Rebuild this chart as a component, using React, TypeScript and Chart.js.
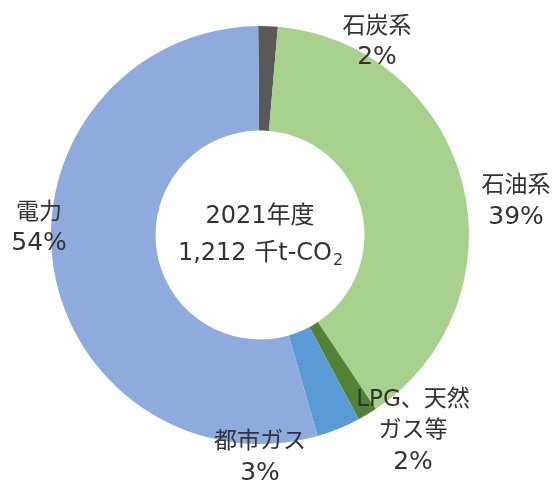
import React, { useEffect, useRef } from "react";
import { Chart, registerables } from "chart.js";

Chart.register(...registerables);

const categories = ["石炭系", "石油系", "LPG、天然ガス等", "都市ガス", "電力"];
const labelLines = [["石炭系"], ["石油系"], ["LPG、天然", "ガス等"], ["都市ガス"], ["電力"]];
const values = [1.5, 39.3, 1.5, 3.4, 54.3];
const percentLabels = ["2%", "39%", "2%", "3%", "54%"];
const colors = ["#595959", "#A9D18E", "#548235", "#5B9BD5", "#8FAADC"];
// label anchor offsets, in units of the outer radius from the chart centre
const labelOffsets = [
  [0.56, -0.923],
  [1.225, -0.158],
  [0.732, 0.938],
  [0.0, 1.067],
  [-1.057, -0.033],
];
const centerTitle = "2021年度";
const centerValue = "1,212 千t-CO";
const centerSub = "2";

const FONT = '"DejaVu Sans", "Noto Sans CJK JP", sans-serif';

const labelPlugin = {
  id: "outerLabels",
  afterDraw(chart: any) {
    const meta = chart.getDatasetMeta(0);
    const arc0 = meta.data[0];
    if (!arc0) return;
    const { x: cx, y: cy, outerRadius: R } = arc0.getProps(["x", "y", "outerRadius"], true);
    const ctx = chart.ctx;
    ctx.save();
    ctx.fillStyle = "#333333";
    ctx.textAlign = "center";
    ctx.textBaseline = "middle";
    const lh = 31;
    categories.forEach((_, i) => {
      const lines = [...labelLines[i], percentLabels[i]];
      const ax = cx + labelOffsets[i][0] * R;
      const ay = cy + labelOffsets[i][1] * R;
      const top = ay - ((lines.length - 1) * lh) / 2;
      lines.forEach((t, j) => {
        ctx.font = j === lines.length - 1 ? `25px ${FONT}` : `23px ${FONT}`;
        ctx.fillText(t, ax, top + j * lh);
      });
    });
    // centre text
    ctx.font = `24px ${FONT}`;
    ctx.fillText(centerTitle, cx, cy - 18);
    const w1 = ctx.measureText(centerValue).width;
    ctx.font = `16px ${FONT}`;
    const w2 = ctx.measureText(centerSub).width;
    const startX = cx - (w1 + w2) / 2;
    ctx.textAlign = "left";
    ctx.font = `24px ${FONT}`;
    ctx.fillText(centerValue, startX, cy + 19);
    ctx.font = `16px ${FONT}`;
    ctx.fillText(centerSub, startX + w1 + 1, cy + 26);
    ctx.restore();
  },
};

export default function App() {
  const ref = useRef<HTMLCanvasElement>(null);
  useEffect(() => {
    document.body.style.margin = "0";
    const chart = new Chart(ref.current!, {
      type: "doughnut",
      data: {
        labels: categories,
        datasets: [
          {
            data: values,
            backgroundColor: colors,
            borderWidth: 0,
          },
        ],
      },
      options: {
        animation: false,
        responsive: false,
        cutout: "50%",
        rotation: -0.5,
        layout: { padding: { left: 51, right: 86, top: 26, bottom: 43 } },
        plugins: { legend: { display: false }, tooltip: { enabled: false } },
      },
      plugins: [labelPlugin],
    });
    return () => chart.destroy();
  }, []);
  return (
    <div style={{ width: 555, height: 487, background: "#fff" }}>
      <canvas ref={ref} width={555} height={487} />
    </div>
  );
}
